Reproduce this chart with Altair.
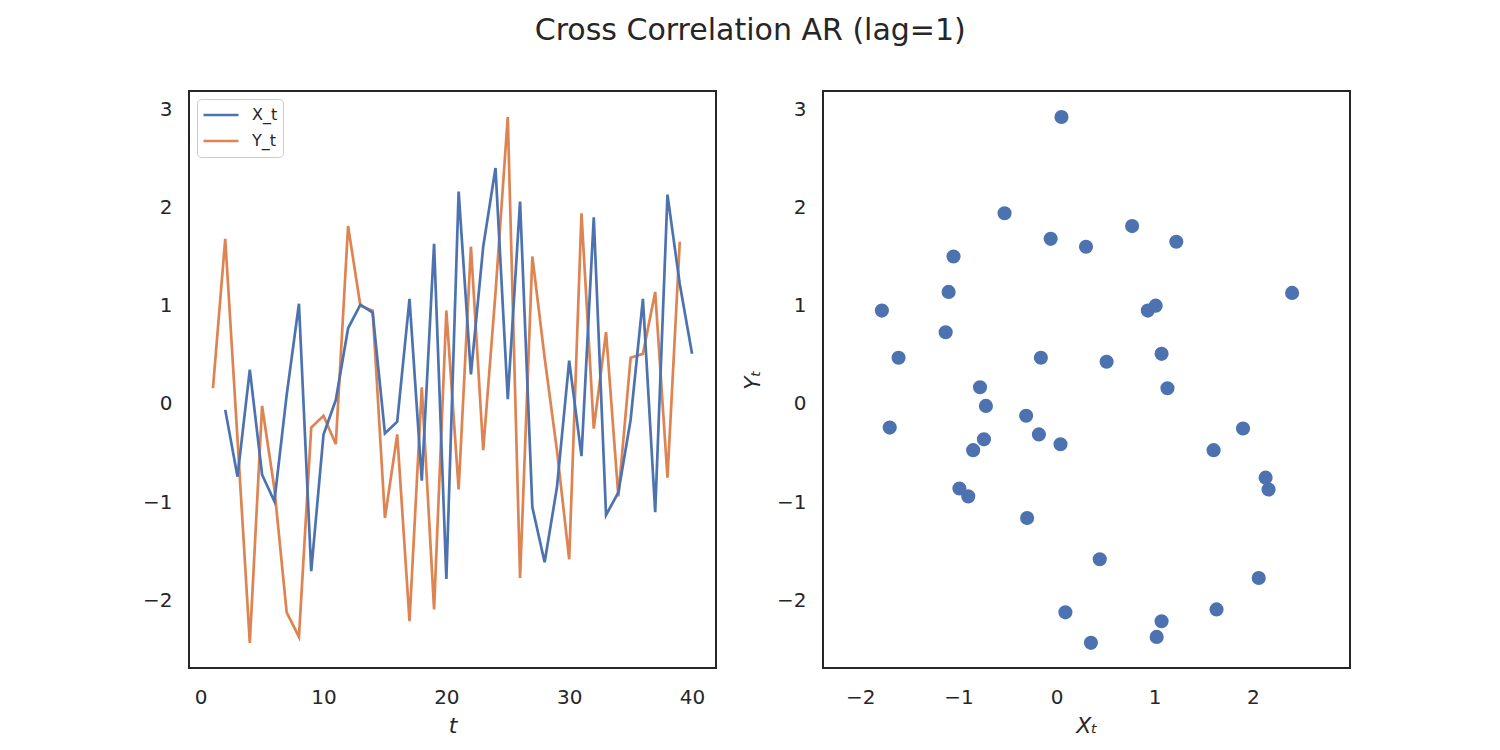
import altair as alt
import pandas as pd

# ---- data ----
t_vals = list(range(1, 41))
x_vals = [1.13, -0.06, -0.74, 0.35, -0.72, -0.99, 0.09, 1.02, -1.70, -0.31,
          0.04, 0.77, 1.01, 0.93, -0.30, -0.18, 1.07, -0.78, 1.63, -1.78,
          2.16, 0.30, 1.60, 2.40, 0.05, 2.06, -1.05, -1.61, -0.85, 0.44,
          -0.53, 1.90, -1.13, -0.90, -0.16, 1.07, -1.10, 2.13, 1.22, 0.51]
y_vals = [0.16, 1.68, -0.36, -2.43, -0.02, -0.86, -2.12, -2.37, -0.24, -0.12,
          -0.41, 1.81, 1.00, 0.95, -1.16, -0.31, -2.21, 0.17, -2.09, 0.95,
          -0.87, 1.60, -0.47, 1.13, 2.92, -1.77, 1.50, 0.47, -0.47, -1.58,
          1.94, -0.25, 0.73, -0.94, 0.47, 0.51, 1.14, -0.75, 1.65, 0.43]

series_names = ["X_t", "Y_t"]
series_colors = ["#4C72B0", "#DD8452"]
t_ticks = [0, 10, 20, 30, 40]
xs_ticks = [-2, -1, 0, 1, 2]
y_ticks = [-2, -1, 0, 1, 2, 3]

rows = []
for t, xv, yv in zip(t_vals, x_vals, y_vals):
    if t >= 2:
        rows.append({"t": t, "value": xv, "series": "X_t"})
    if t <= 39:
        rows.append({"t": t, "value": yv, "series": "Y_t"})
line_df = pd.DataFrame(rows)
scatter_df = pd.DataFrame({"x": x_vals, "y": y_vals})

FONT = "DejaVu Sans"
TC = "#262626"

y_scale = alt.Scale(domain=[-2.686, 3.184], nice=False, zero=False)

left = alt.Chart(line_df).mark_line(strokeWidth=2.7).encode(
    x=alt.X("t:Q",
            scale=alt.Scale(domain=[-0.95, 41.95], nice=False, zero=False),
            axis=alt.Axis(values=t_ticks, title="t", titleFontStyle="italic")),
    y=alt.Y("value:Q", scale=y_scale,
            axis=alt.Axis(values=y_ticks, title=None)),
    color=alt.Color("series:N",
                    scale=alt.Scale(domain=series_names, range=series_colors),
                    legend=alt.Legend(orient="top-left", offset=8, title=None,
                                      fillColor="white", strokeColor="#cccccc",
                                      cornerRadius=4, padding=5,
                                      symbolType="stroke", symbolSize=1225,
                                      symbolStrokeWidth=2.7, clipHeight=22,
                                      rowPadding=4, labelFont=FONT,
                                      labelFontSize=16, labelColor=TC,
                                      labelOffset=12)),
    order="t:Q",
).properties(width=527, height=577)

right = alt.Chart(scatter_df).mark_circle(size=200, opacity=1, color="#4C72B0").encode(
    x=alt.X("x:Q",
            scale=alt.Scale(domain=[-2.38, 2.99], nice=False, zero=False),
            axis=alt.Axis(values=xs_ticks, title="Xₜ", titleFontStyle="italic")),
    y=alt.Y("y:Q", scale=y_scale,
            axis=alt.Axis(values=y_ticks, title="Yₜ", titleFontStyle="italic",
                          titlePadding=12)),
).properties(width=527, height=577)

chart = alt.hconcat(left, right, spacing=107, bounds="flush").properties(
    title=alt.Title("Cross Correlation AR (lag=1)", fontSize=30, font=FONT,
                    color=TC, fontWeight="normal", anchor="middle", offset=44,
                    dx=4),
    padding={"left": 133, "top": 8, "right": 5, "bottom": 5},
    background="white",
).configure_view(
    stroke=TC, strokeWidth=2
).configure_axis(
    ticks=False, domain=False, grid=False,
    labelFont=FONT, labelFontSize=20, labelColor=TC, labelPadding=17,
    titleFont=FONT, titleFontSize=22, titleColor=TC, titleFontWeight="normal",
    titlePadding=8,
).configure_axisX(
    labelPadding=19,
)

chart.save("out.html", embed_options={"renderer": "svg", "actions": False})
